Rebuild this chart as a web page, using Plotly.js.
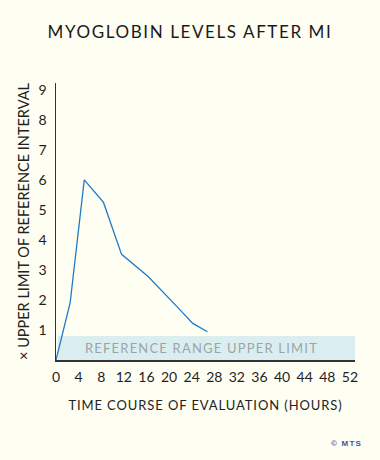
<!DOCTYPE html>
<html>
<head>
<meta charset="utf-8">
<script src="https://cdn.plot.ly/plotly-3.0.1.min.js"></script>
<style>
  html, body { margin: 0; padding: 0; background: #fefef3; }
  #chart { width: 380px; height: 460px; }
  .gtitle { letter-spacing: 1.6px; }
  .g-xtitle text { letter-spacing: 0.9px; }
  .annotation-text { letter-spacing: 1.2px; }
</style>
</head>
<body>
<div id="chart"></div>
<script>
// Data (hours after MI, multiple of upper reference limit)
const hours = [0, 2.5, 5, 8.4, 11.6, 16.3, 21.4, 24.2, 26.8];
const myoglobin = [0, 1.9, 6.0, 5.25, 3.52, 2.78, 1.78, 1.22, 0.94];
const referenceUpper = 0.8;
const xTicks = [0, 4, 8, 12, 16, 20, 24, 28, 32, 36, 40, 44, 48, 52];
const yTicks = [1, 2, 3, 4, 5, 6, 7, 8, 9];

const FONT = 'Lato, "Open Sans", sans-serif';
const xMax = 52.9, yMax = 9.23;

const trace = {
  x: hours, y: myoglobin, type: 'scatter', mode: 'lines',
  line: { color: '#1f7bc6', width: 1.3 },
  hoverinfo: 'skip', showlegend: false, cliponaxis: false
};

const layout = {
  width: 380, height: 460,
  paper_bgcolor: '#fefef3', plot_bgcolor: '#fefef3',
  margin: { l: 56, r: 25, t: 83, b: 100 },
  font: { family: FONT, color: '#222' },
  title: {
    text: 'MYOGLOBIN LEVELS AFTER MI',
    font: { family: FONT, size: 17, color: '#1a1a1a' },
    x: 0.5, xanchor: 'center', xref: 'container', y: 0.93, yanchor: 'middle'
  },
  xaxis: {
    range: [0, xMax], tickvals: xTicks, ticktext: xTicks.map(String),
    showgrid: false, zeroline: false, showline: true,
    linecolor: '#333', linewidth: 1.5,
    ticks: 'outside', ticklen: 4, tickcolor: 'rgba(0,0,0,0)',
    tickfont: { family: FONT, size: 14, color: '#1e1e1e' },
    title: { text: 'TIME COURSE OF EVALUATION (HOURS)', font: { family: FONT, size: 13, color: '#222' }, standoff: 16 },
    fixedrange: true
  },
  yaxis: {
    range: [0, yMax], tickvals: yTicks, ticktext: yTicks.map(String),
    showgrid: false, zeroline: false, showline: true,
    linecolor: '#333', linewidth: 1.5,
    ticks: 'outside', ticklen: 5, tickcolor: 'rgba(0,0,0,0)',
    tickfont: { family: FONT, size: 14, color: '#1e1e1e' },
    title: { text: '× UPPER LIMIT OF REFERENCE INTERVAL', font: { family: FONT, size: 14.5, color: '#222' }, standoff: 5 },
    fixedrange: true
  },
  shapes: [{
    type: 'rect', xref: 'x', yref: 'y', layer: 'below',
    x0: 0.3, x1: xMax, y0: 0, y1: referenceUpper,
    fillcolor: '#daeef0', line: { width: 0 }
  }],
  annotations: [{
    text: 'REFERENCE RANGE UPPER LIMIT', xref: 'x', yref: 'y',
    x: 25.8, y: referenceUpper / 2, showarrow: false,
    font: { family: FONT, size: 13, color: '#9aa5a8' }
  }, {
    text: '<b>© MTS</b>', xref: 'paper', yref: 'paper',
    x: 1.03, y: -0.3, xanchor: 'right', yanchor: 'middle', showarrow: false,
    font: { family: 'Arial, "Liberation Sans", sans-serif', size: 8, color: '#3a55a8' }
  }]
};

Plotly.newPlot('chart', [trace], layout, { staticPlot: true, displayModeBar: false });
</script>
</body>
</html>
